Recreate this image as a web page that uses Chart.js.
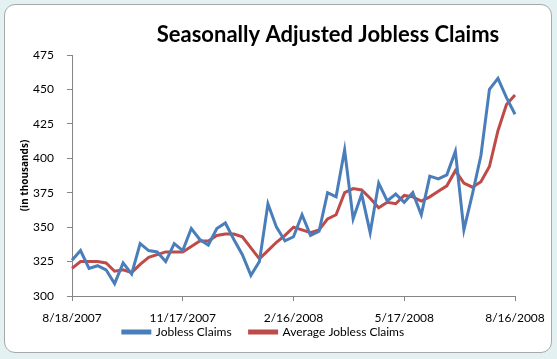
<!DOCTYPE html>
<html>
<head>
<meta charset="utf-8">
<script src="https://cdn.jsdelivr.net/npm/chart.js@4.4.0/dist/chart.umd.min.js"></script>
<style>
  html, body { margin: 0; padding: 0; }
  body { width: 557px; height: 359px; background: #e4f1f3; position: relative; overflow: hidden; }
  #frame { position: absolute; left: 4px; top: 4px; width: 546px; height: 347px; border: 1.5px solid #a8a8a8; border-radius: 11px; background: #ffffff; }
  #wrap { position: absolute; left: 0; top: 0; width: 557px; height: 359px; }
</style>
</head>
<body>
<div id="frame"></div>
<div id="wrap"><canvas id="c" width="557" height="359"></canvas></div>
<script>
const weeks = [
  "8/18/2007","8/25/2007","9/1/2007","9/8/2007","9/15/2007","9/22/2007","9/29/2007","10/6/2007","10/13/2007","10/20/2007","10/27/2007","11/3/2007","11/10/2007",
  "11/17/2007","11/24/2007","12/1/2007","12/8/2007","12/15/2007","12/22/2007","12/29/2007","1/5/2008","1/12/2008","1/19/2008","1/26/2008","2/2/2008","2/9/2008",
  "2/16/2008","2/23/2008","3/1/2008","3/8/2008","3/15/2008","3/22/2008","3/29/2008","4/5/2008","4/12/2008","4/19/2008","4/26/2008","5/3/2008","5/10/2008",
  "5/17/2008","5/24/2008","5/31/2008","6/7/2008","6/14/2008","6/21/2008","6/28/2008","7/5/2008","7/12/2008","7/19/2008","7/26/2008","8/2/2008","8/9/2008",
  "8/16/2008"
];
const tickLabels = ["8/18/2007","11/17/2007","2/16/2008","5/17/2008","8/16/2008"];
const joblessClaims = [
  326,333,320,322,319,309,324,316,338,333,332,325,338,
  333,349,341,337,349,353,341,330,315,325,367,350,340,
  343,359,344,347,375,372,406,356,374,346,382,369,374,
  368,375,359,387,385,388,405,348,374,402,450,458,444,
  432
];
const averageClaims = [
  320,325,325,325,324,318,319,317,323,328,330,332,332,
  332,336,340,340,344,345,345,343,335,327,333,339,344,
  350,348,346,348,356,359,375,378,377,371,364,368,367,
  373,372,369,372,376,380,391,382,379,383,394,420,439,
  446
];
const chartTitle = "Seasonally Adjusted Jobless Claims";
const yAxisTitle = "(in thousands)";

const FONT = "Lato, 'Open Sans', sans-serif";
const AXIS = "#868686";

const titlePlugin = {
  id: 'offsetTitle',
  afterLayout(chart) {
    if (chart.legend) { chart.legend.top -= 16; chart.legend.bottom -= 16; }
  },
  afterDraw(chart) {
    const ctx = chart.ctx;
    ctx.save();
    ctx.font = "bold 22px " + FONT;
    ctx.fillStyle = "#000";
    ctx.textAlign = "center";
    ctx.textBaseline = "middle";
    ctx.fillText(chartTitle, 328, 35);
    ctx.restore();
  }
};

new Chart(document.getElementById('c'), {
  type: 'line',
  data: {
    labels: weeks,
    datasets: [
      { label: 'Jobless Claims', data: joblessClaims, borderColor: '#4A7EBB', backgroundColor: '#4A7EBB', borderWidth: 3, pointRadius: 0, tension: 0, fill: false },
      { label: 'Average Jobless Claims', data: averageClaims, borderColor: '#BE4B48', backgroundColor: '#BE4B48', borderWidth: 3, pointRadius: 0, tension: 0, fill: false }
    ]
  },
  options: {
    responsive: false,
    animation: false,
    devicePixelRatio: 1,
    layout: { padding: { left: 12, right: 42, top: 55, bottom: 0 } },
    plugins: {
      title: { display: false },
      tooltip: { enabled: false },
      legend: {
        position: 'bottom',
        maxHeight: 35,
        labels: {
          font: { family: FONT, size: 12 },
          color: '#000',
          boxWidth: 27,
          boxHeight: 2,
          padding: 18
        }
      }
    },
    scales: {
      x: {
        type: 'category',
        offset: false,
        afterFit(s) { s.height = 28; },
        border: { display: true, color: AXIS, width: 1 },
        grid: {
          drawOnChartArea: false,
          drawTicks: true,
          tickLength: 5,
          tickColor: (c) => (c.index % 13 === 0 ? AXIS : 'rgba(0,0,0,0)')
        },
        ticks: {
          autoSkip: false,
          maxRotation: 0,
          minRotation: 0,
          padding: 10,
          color: '#000',
          font: { family: FONT, size: 12 },
          callback: function(v, i) {
            const lab = this.getLabelForValue(v);
            return tickLabels.includes(lab) ? lab : '';
          }
        }
      },
      y: {
        min: 300,
        max: 475,
        afterFit(s) { s.width = 60; },
        border: { display: true, color: AXIS, width: 1 },
        grid: { drawOnChartArea: false, drawTicks: true, tickLength: 5, tickColor: AXIS },
        ticks: { stepSize: 25, padding: 13, color: '#000', font: { family: FONT, size: 12 } },
        title: { display: true, text: yAxisTitle, color: '#000', font: { family: "'Open Sans', sans-serif", size: 10, weight: 'bold' }, padding: { top: 7, bottom: 4 } }
      }
    }
  },
  plugins: [titlePlugin]
});
</script>
</body>
</html>
